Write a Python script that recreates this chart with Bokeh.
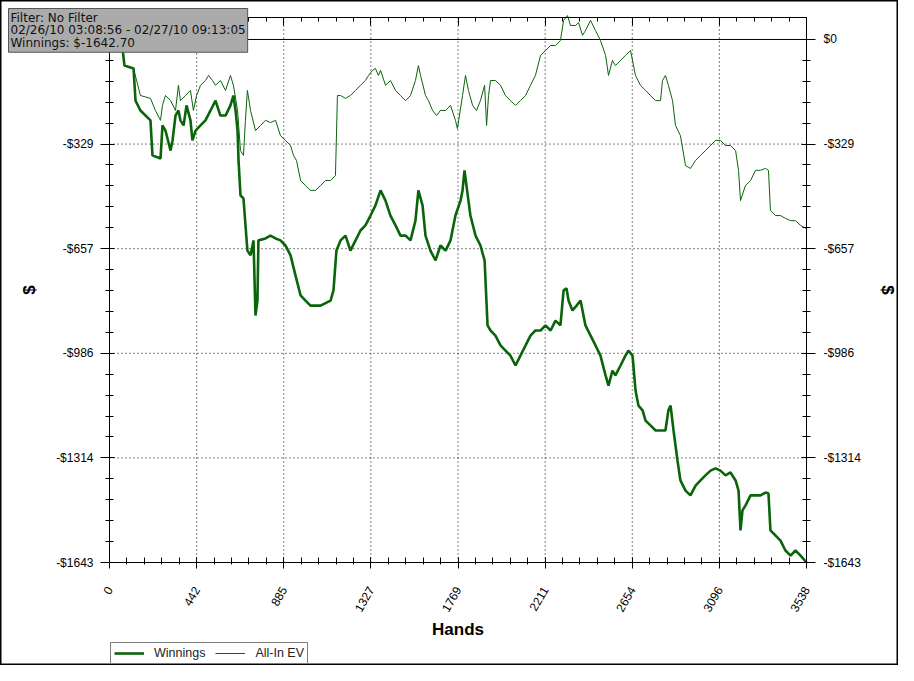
import math
from bokeh.plotting import figure
from bokeh.models import (Range1d, FixedTicker, LinearAxis, Label, Legend, LegendItem)
from bokeh.embed import file_html
from bokeh.resources import INLINE

# ---- data ----
win_hands = [0, 66, 76, 122, 132, 157, 208, 218, 259, 269, 284, 310, 320, 335, 350, 360, 376, 391, 411, 421,
             437, 462, 487, 513, 538, 563, 589, 614, 629, 640, 650, 655, 665, 680, 700, 716, 731, 741, 751, 756,
             792, 817, 843, 868, 893, 919, 944, 970, 995, 1020, 1071, 1122, 1137, 1152, 1173, 1198, 1223, 1249,
             1274, 1299, 1325, 1350, 1376, 1401, 1426, 1452, 1477, 1503, 1528, 1553, 1568, 1589, 1604, 1629,
             1655, 1680, 1706, 1731, 1756, 1782, 1792, 1802, 1822, 1832, 1858, 1883, 1904, 1919, 1934, 1959,
             1985, 2010, 2035, 2061, 2086, 2112, 2137, 2162, 2188, 2213, 2239, 2264, 2289, 2305, 2320, 2330,
             2350, 2371, 2391, 2416, 2442, 2467, 2492, 2518, 2533, 2553, 2568, 2594, 2619, 2634, 2655, 2670,
             2685, 2706, 2721, 2746, 2772, 2797, 2822, 2837, 2848, 2863, 2883, 2898, 2924, 2949, 2975, 3000,
             3025, 3051, 3076, 3101, 3127, 3152, 3178, 3193, 3203, 3213, 3228, 3254, 3279, 3304, 3330, 3345,
             3355, 3381, 3406, 3431, 3457, 3482, 3508, 3538]
win_vals = [0, -28, -82, -91, -192, -223, -254, -364, -374, -270, -286, -349, -317, -239, -223, -254, -270, -207,
            -254, -317, -286, -270, -254, -223, -192, -239, -239, -207, -176, -223, -286, -380, -490, -499, -663,
            -678, -631, -867, -820, -631, -625, -616, -625, -631, -647, -678, -741, -804, -820, -836, -836, -820,
            -788, -663, -631, -616, -663, -631, -600, -584, -553, -521, -474, -506, -553, -584, -616, -616, -631,
            -569, -474, -521, -616, -663, -694, -647, -663, -631, -553, -506, -474, -411, -506, -553, -616, -647,
            -694, -898, -914, -930, -961, -977, -993, -1024, -993, -961, -930, -914, -914, -898, -914, -883, -898,
            -788, -782, -820, -851, -836, -820, -898, -930, -961, -993, -1055, -1087, -1040, -1055, -1024, -993,
            -977, -993, -1102, -1150, -1165, -1197, -1212, -1228, -1228, -1228, -1165, -1150, -1228, -1322, -1385,
            -1417, -1432, -1401, -1385, -1369, -1354, -1347, -1354, -1369, -1360, -1385, -1417, -1542, -1479,
            -1464, -1432, -1432, -1432, -1423, -1426, -1542, -1558, -1574, -1605, -1621, -1605, -1621, -1642.70]

ev_hands = [0, 66, 76, 122, 157, 208, 233, 259, 269, 284, 310, 335, 350, 360, 386, 411, 426, 442, 462, 487, 503,
            523, 538, 563, 589, 614, 629, 650, 665, 680, 690, 700, 716, 741, 767, 792, 817, 843, 868, 893, 919,
            934, 949, 970, 995, 1020, 1046, 1071, 1096, 1122, 1147, 1157, 1173, 1198, 1223, 1249, 1274, 1299,
            1315, 1335, 1350, 1365, 1376, 1401, 1426, 1452, 1477, 1503, 1528, 1553, 1568, 1579, 1604, 1619, 1640,
            1660, 1680, 1706, 1731, 1756, 1766, 1792, 1807, 1822, 1843, 1863, 1883, 1904, 1914, 1924, 1934, 1959,
            1985, 2010, 2035, 2061, 2086, 2112, 2137, 2162, 2188, 2213, 2239, 2264, 2289, 2305, 2325, 2340, 2366,
            2381, 2401, 2416, 2442, 2467, 2492, 2518, 2533, 2553, 2568, 2594, 2619, 2645, 2670, 2695, 2721, 2746,
            2772, 2797, 2807, 2822, 2837, 2858, 2873, 2898, 2924, 2949, 2975, 3000, 3025, 3051, 3076, 3101, 3127,
            3152, 3178, 3193, 3203, 3228, 3254, 3279, 3304, 3330, 3345, 3355, 3381, 3406, 3431, 3457, 3482, 3508,
            3538]
ev_vals = [0, -28, -82, -91, -176, -185, -223, -254, -207, -176, -192, -223, -144, -192, -176, -160, -223, -176,
           -144, -129, -113, -129, -144, -129, -160, -113, -144, -223, -349, -364, -254, -160, -223, -286, -270,
           -254, -261, -254, -302, -317, -333, -364, -380, -443, -459, -474, -474, -459, -443, -443, -427, -176,
           -176, -185, -176, -160, -144, -129, -113, -97, -91, -113, -97, -144, -129, -160, -176, -192, -176,
           -129, -82, -113, -176, -192, -223, -239, -223, -223, -207, -254, -280, -176, -113, -160, -207, -223,
           -192, -144, -270, -176, -129, -129, -144, -176, -192, -207, -192, -176, -144, -113, -50, -35, -19, -19,
           -3, 60, 75, 44, 44, 53, 13, 28, 60, 28, -3, -50, -113, -66, -82, -66, -50, -35, -113, -144, -160, -176,
           -192, -192, -129, -113, -144, -192, -270, -302, -396, -405, -380, -364, -349, -333, -317, -317, -333,
           -333, -349, -411, -506, -459, -443, -411, -411, -405, -411, -537, -553, -553, -562, -569, -569, -584,
           -594]

x_ticks = [0, 442.25, 884.5, 1326.75, 1769, 2211.25, 2653.5, 3095.75, 3538]
x_tick_labels = ["0", "442", "885", "1327", "1769", "2211", "2654", "3096", "3538"]
y_ticks = [0, -328.54, -657.08, -985.62, -1314.16, -1642.70]
y_tick_labels = ["$0", "-$329", "-$657", "-$986", "-$1314", "-$1643"]
info_lines = ["Filter: No Filter", "02/26/10 03:08:56 - 02/27/10 09:13:05", "Winnings: $-1642.70"]
series_names = ["Winnings", "All-In EV"]

GREEN = "#0a640a"
FONT = "Liberation Sans"

# plotted data extent
X0, X1 = 0, 3538
Y0, Y1 = -1642.70, 69
# canvas geometry (pixels)
W, H = 898, 665
FL, FR, FT, FB = 109, 806, 17, 562          # plot box edges
hx = (X1 - X0) / (FR - FL)                  # hands per pixel
hy = (Y1 - Y0) / (FB - FT)                  # dollars per pixel

p = figure(width=W, height=H, output_backend="svg", toolbar_location=None,
           x_range=Range1d(X0 - FL * hx, X1 + (W - FR) * hx),
           y_range=Range1d(Y0 - (H - FB) * hy, Y1 + FT * hy),
           min_border=0, background_fill_color="white", border_fill_color="white")
p.outline_line_color = "black"
p.outline_line_width = 2
p.xgrid.visible = False
p.ygrid.visible = False

xminor = [i * 442.25 / 5 for i in range(0, 41)]
yminor = [-i * 328.54 / 5 for i in range(0, 26)]
xt = FixedTicker(ticks=x_ticks, minor_ticks=xminor)
yt = FixedTicker(ticks=y_ticks, minor_ticks=yminor)
x_over = {v: l for v, l in zip(x_ticks, x_tick_labels)}
y_over = {v: l for v, l in zip(y_ticks, y_tick_labels)}


def style_axis(ax):
    ax.axis_line_color = "black"
    ax.major_tick_line_color = "black"
    ax.minor_tick_line_color = "black"
    ax.major_label_text_font = FONT
    ax.major_label_text_font_size = "12px"
    ax.major_label_text_color = "black"
    ax.axis_label_text_font = FONT
    ax.axis_label_text_font_style = "bold"
    ax.axis_label_text_font_size = "17px"
    ax.axis_label_text_color = "black"


# bottom axis
bx = p.xaxis[0]
style_axis(bx)
bx.ticker = xt
bx.major_label_overrides = x_over
bx.fixed_location = Y0
bx.bounds = (X0, X1)
bx.axis_label = "Hands"
bx.major_label_orientation = math.pi / 3
bx.major_tick_in = 5
bx.major_tick_out = 6
bx.minor_tick_in = 5
bx.minor_tick_out = 2
bx.major_label_standoff = 19
bx.axis_label_standoff = 2

# left axis
ly = p.yaxis[0]
style_axis(ly)
ly.ticker = yt
ly.major_label_overrides = y_over
ly.fixed_location = X0
ly.bounds = (Y0, Y1)
ly.axis_label = "$"
ly.major_tick_in = 5
ly.major_tick_out = 9
ly.minor_tick_in = 4
ly.minor_tick_out = 4
ly.major_label_standoff = 7
ly.axis_label_standoff = 14

# right axis
ry = LinearAxis(ticker=yt, axis_label="$", fixed_location=X1, bounds=(Y0, Y1))
style_axis(ry)
ry.major_label_overrides = y_over
ry.major_tick_in = 5
ry.major_tick_out = 9
ry.minor_tick_in = 4
ry.minor_tick_out = 4
ry.major_label_standoff = 8
ry.axis_label_standoff = 14
p.add_layout(ry, "right")

# top axis (ticks only)
tx = LinearAxis(ticker=xt, fixed_location=Y1, bounds=(X0, X1))
tx.axis_line_color = "black"
tx.major_tick_line_color = "black"
tx.minor_tick_line_color = "black"
tx.major_label_text_font_size = "0px"
tx.major_label_text_alpha = 0
tx.major_label_standoff = 0
tx.major_tick_in = 8
tx.major_tick_out = 0
tx.minor_tick_in = 4
tx.minor_tick_out = 0
p.add_layout(tx, "above")

# dotted grid lines at the inner major ticks, limited to the plot box
gx = x_ticks[1:-1]
gy = y_ticks[1:-1]
p.segment(x0=gx, y0=[Y0] * len(gx), x1=gx, y1=[Y1] * len(gx),
          line_color="black", line_dash="1 3", line_width=1)
p.segment(x0=[X0] * len(gy), y0=gy, x1=[X1] * len(gy), y1=gy,
          line_color="black", line_dash="1 3", line_width=1)
# solid zero line
p.segment(x0=[X0], y0=[0], x1=[X1], y1=[0], line_color="black", line_width=1)

r_win = p.line(win_hands, win_vals, line_color=GREEN, line_width=2.6)
r_ev = p.line(ev_hands, ev_vals, line_color=GREEN, line_width=1)

legend = Legend(items=[LegendItem(label=series_names[0], renderers=[r_win]),
                       LegendItem(label=series_names[1], renderers=[r_ev])],
                orientation="horizontal", location=(110, 1),
                border_line_color="black", border_line_width=1,
                background_fill_color="white", background_fill_alpha=1,
                label_text_font=FONT, label_text_font_size="12.5px",
                label_text_color="#222222",
                glyph_width=30, glyph_height=14, label_height=14,
                label_standoff=10, spacing=10, padding=3, margin=0)
p.add_layout(legend, "center")

# info box with its top-left corner at canvas pixel (8, 8)
info = Label(x=X0 - (FL - 8) * hx, y=Y1 + (FT - 8) * hy,
             text="\n".join(info_lines), text_font="DejaVu Sans", text_font_size="12px",
             text_line_height=0.92,
             text_color="#111111", text_baseline="top", text_align="left",
             background_fill_color="#ababab", background_fill_alpha=1,
             border_line_color="#555555", border_line_width=1, padding=2)
p.add_layout(info)

open("out.html", "w").write(file_html(p, INLINE))
